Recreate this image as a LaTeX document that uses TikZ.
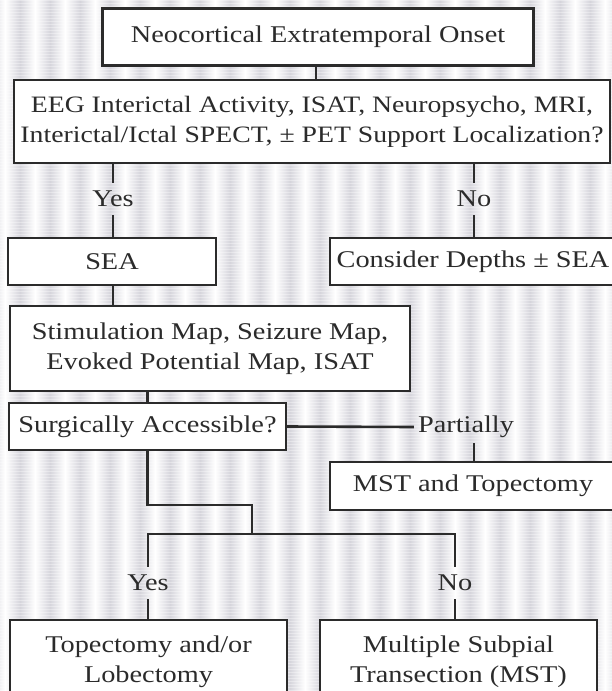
\documentclass[tikz,border=0pt]{standalone}
\usepackage{fontspec}
\setmainfont{Liberation Serif}[FakeStretch=1.18]
\definecolor{ink}{HTML}{2B2B2B}
\definecolor{stripe}{HTML}{D6D5DC}
\begin{document}
\begin{tikzpicture}[x=1pt,y=-1pt,
  box/.style={draw=ink, line width=2.1pt, fill=white, inner sep=0pt,
    align=center, text=ink, font=\fontsize{24}{30}\selectfont},
  lbl/.style={text=ink, inner sep=0pt, minimum height=32pt,
    font=\fontsize{24}{30}\selectfont},
  link/.style={draw=ink, line width=2.6pt}]
\useasboundingbox (0,0) rectangle (612,691);
\clip (0,0) rectangle (612,691);
% striped paper background
\fill[stripe] (0,0) rectangle (612,691);
\foreach \k in {0,...,21}{
  \shade[left color=stripe, right color=white] (\k*30-10,0) rectangle (\k*30+5,691);
  \shade[left color=white, right color=stripe] (\k*30+5,0) rectangle (\k*30+20,691);
}
\foreach \y in {0,3,...,690}{
  \draw[white, opacity=0.35, line width=0.8pt] (0,\y) -- (612,\y);
}

% boxes
\node[box, minimum width=431, minimum height=57] (onset) at (318,37)
  {Neocortical Extratemporal Onset};
\node[box, minimum width=596, minimum height=83, font=\fontsize{23.5}{30}\selectfont]
  (eeg) at (312,121.5)
  {EEG Interictal Activity, ISAT, Neuropsycho, MRI,\\
   Interictal/Ictal SPECT, \textpm{} PET Support Localization?};
\node[box, minimum width=208, minimum height=47] (sea) at (112,261.5) {SEA};
\node[box, minimum width=286, minimum height=47] (depths) at (473,261.5)
  {Consider Depths \textpm{} SEA};
\node[box, minimum width=400, minimum height=85] (stim) at (210,348.5)
  {Stimulation Map, Seizure Map,\\ Evoked Potential Map, ISAT};
\node[box, minimum width=277, minimum height=47] (surg) at (147.5,426.5)
  {Surgically Accessible?};
\node[box, minimum width=286, minimum height=48] (msttop) at (473,486)
  {MST and Topectomy};
\node[box, minimum width=277, minimum height=84] (lobe) at (148.5,662)
  {Topectomy and/or\\ Lobectomy};
\node[box, minimum width=277, minimum height=84] (mst) at (458.5,662)
  {Multiple Subpial\\ Transection (MST)};

% branch labels
\node[lbl] (yes1) at (113,199) {Yes};
\node[lbl] (no1) at (474,199) {No};
\node[lbl, inner xsep=4pt] (part) at (466,427) {Partially};
\node[lbl] (yes2) at (148,583) {Yes};
\node[lbl] (no2) at (455,583) {No};
\coordinate (j) at (252,534);

% connectors
\draw[link] (onset.south -| 316,0) -- (eeg.north -| 316,0);
\draw[link] (eeg.south -| yes1) -- (yes1.north);
\draw[link] (yes1.south) -- (sea.north -| yes1);
\draw[link] (eeg.south -| no1) -- (no1.north);
\draw[link] (no1.south) -- (depths.north -| no1);
\draw[link] (sea.south -| yes1) -- (stim.north -| yes1);
\draw[link] (stim.south -| surg) -- (surg.north);
\draw[link] (surg.east) -- (part.west);
\draw[link] (part.south -| 474,0) -- (msttop.north -| 474,0);
\draw[link] (surg.south) |- (252,505) -- (j);
\draw[link] (j -| yes2) -| (no2.north);
\draw[link] (j) -- (j -| yes2) -- (yes2.north);
\draw[link] (yes2.south) -- (lobe.north -| yes2);
\draw[link] (no2.south) -- (mst.north -| no2);
\end{tikzpicture}
\end{document}
